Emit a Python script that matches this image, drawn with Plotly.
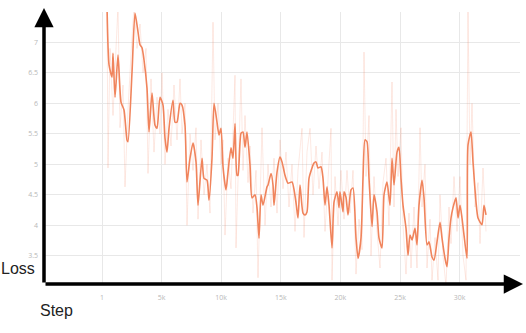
import plotly.graph_objects as go

# Smoothed loss curve (step, loss)
smooth_steps = [420, 590, 840, 923, 1091, 1342, 1594, 1846, 2097, 2181, 2517, 2768, 3020, 3188,
                3356, 3523, 3775, 3943, 4195, 4446, 4614, 4866, 5117, 5285, 5453, 5621, 5956,
                6124, 6292, 6544, 6711, 6963, 7131, 7383, 7634, 7886, 8054, 8389, 8557, 8809,
                8976, 9228, 9396, 9648, 9815, 9983, 10151, 10403, 10570, 10822, 10990, 11158,
                11326, 11409, 11661, 11829, 11997, 12164, 12416, 12584, 12836, 13003, 13171,
                13339, 13507, 13842, 13926, 14178, 14346, 14430, 14681, 14933, 15101, 15352,
                15604, 15940, 16275, 16443, 16611, 16862, 17030, 17198, 17366, 17617, 17785,
                17953, 18121, 18372, 18540, 18708, 18876, 19044, 19295, 19463, 19715, 19883,
                19966, 20218, 20302, 20470, 20638, 20889, 21057, 21309, 21477, 21728, 21896,
                22064, 22231, 22399, 22651, 22819, 23070, 23238, 23490, 23658, 23909, 24161,
                24329, 24497, 24748, 24916, 25084, 25252, 25503, 25671, 25839, 26007, 26258,
                26426, 26594, 26846, 27013, 27265, 27433, 27685, 27852, 28104, 28356, 28523,
                28775, 28943, 29111, 29279, 29446, 29698, 29866, 30034, 30201, 30369, 30621,
                30705, 30956, 31124, 31376, 31544, 31879, 32047, 32215]
smooth_loss = [7.6, 6.63, 6.43, 6.82, 6.10, 6.79, 6.02, 5.89, 5.40, 5.37, 6.51, 7.48, 7.17, 6.96,
               6.91, 6.71, 6.25, 5.53, 6.17, 5.64, 5.59, 6.10, 5.97, 5.43, 5.20, 5.59, 6.05,
               5.69, 5.69, 6.00, 5.97, 5.64, 4.71, 5.10, 5.35, 5.04, 4.33, 5.10, 4.77, 4.74,
               4.41, 5.10, 6.00, 5.69, 5.48, 5.59, 4.96, 4.58, 4.87, 5.27, 5.10, 5.67,
               4.82, 4.82, 5.51, 5.53, 5.28, 5.53, 4.99, 4.45, 4.50, 4.29, 3.79,
               4.50, 4.33, 4.63, 4.66, 4.85, 4.66, 4.33, 4.87, 5.12, 5.04, 4.82,
               4.69, 4.71, 4.37, 4.12, 4.66, 4.20, 4.17, 4.22, 4.77, 4.94, 5.02,
               5.04, 4.94, 4.96, 4.77, 4.33, 4.63, 4.33, 3.63, 4.38, 4.55, 4.29,
               4.55, 4.22, 4.55, 4.46, 4.17, 4.58, 4.61, 3.79, 3.46, 3.79, 4.77,
               5.40, 5.37, 4.77, 3.98, 4.50, 4.22, 3.79, 3.63, 4.50, 4.71, 4.33,
               5.10, 4.66, 5.20, 5.28, 4.77, 4.33, 3.95, 3.51, 3.84, 3.76, 3.95,
               3.68, 4.33, 4.74, 4.45, 3.68, 3.73, 3.48, 3.43, 3.73, 4.05, 3.79,
               3.46, 3.32, 3.79, 4.12, 4.29, 4.45, 4.12, 4.33, 4.12, 3.84, 3.46,
               5.32, 5.53, 5.04, 4.38, 4.12, 4.01, 4.33, 4.17]

# Raw (unsmoothed) loss, faint
raw_steps = [419, 503, 671, 923, 1174, 1342, 1510, 1762, 1929, 2181, 2433, 2684, 2936, 3188, 3439,
             3691, 3859, 4111, 4362, 4614, 4866, 5033, 5285, 5537, 5788, 6040, 6292, 6544, 6711,
             6963, 7131, 7383, 7634, 7886, 8054, 8305, 8557, 8809, 9060, 9312, 9480, 9731, 9983,
             10151, 10318, 10570, 10822, 10990, 11158, 11242, 11493, 11661, 11829, 11997, 12248,
             12416, 12667, 12919, 13087, 13255, 13422, 13674, 13926, 14177, 14429, 14681, 14932,
             15184, 15436, 15687, 15939, 16191, 16442, 16778, 16946, 17197, 17449, 17701, 17952,
             18204, 18456, 18707, 18959, 19211, 19295, 19546, 19798, 20050, 20301, 20553, 20805,
             21056, 21308, 21560, 21811, 21979, 22147, 22399, 22566, 22818, 23070, 23321, 23573,
             23825, 24076, 24328, 24496, 24664, 24831, 25083, 25251, 25503, 25754, 25922, 26174,
             26425, 26677, 26845, 27096, 27264, 27516, 27684, 27935, 28187, 28355, 28606, 28858,
             29110, 29278, 29529, 29781, 30033, 30284, 30536, 30704, 30872, 31039, 31291, 31543,
             31710, 31962, 32214]
raw_loss = [7.6, 4.94, 6.9, 5.8, 6.9, 7.6, 5.6, 6.3, 4.63, 5.9, 6.8, 7.6, 6.9, 7.3, 6.5,
            6.9, 4.85, 6.4, 5.2, 6.1, 5.5, 6.5, 5.0, 5.9, 5.3, 6.3, 5.4, 6.4, 5.5,
            6.0, 4.0, 5.5, 4.9, 5.6, 4.1, 5.4, 4.5, 5.0, 4.2, 7.33, 5.4, 6.0, 5.0,
            5.4, 3.84, 5.1, 4.6, 5.6, 6.46, 3.63, 5.2, 6.4, 4.9, 5.8, 4.7,
            5.3, 4.2, 4.9, 3.14, 4.6, 5.6, 4.0, 5.0, 4.3, 5.1, 4.2, 5.4,
            4.6, 5.2, 4.3, 5.0, 3.9, 4.9, 5.59, 3.8, 5.2, 5.59, 4.5, 5.3,
            4.6, 5.2, 3.9, 4.8, 5.59, 3.1, 4.8, 4.0, 4.9, 4.1, 4.9, 4.2,
            4.9, 3.2, 4.1, 3.6, 6.84, 4.8, 5.8, 3.5, 4.8, 3.9, 3.3, 4.7,
            5.1, 4.0, 6.35, 4.3, 5.9, 4.8, 5.6, 4.0, 3.2, 4.2, 3.3, 4.3,
            3.3, 5.6, 4.3, 5.0, 3.3, 4.1, 3.1, 3.8, 3.1, 4.5, 3.5, 3.0,
            4.3, 3.7, 4.8, 3.9, 4.8, 3.5, 3.1, 7.5, 5.0, 6.0, 4.3, 4.7,
            3.7, 4.94, 3.9]

x_tickvals = [1, 5000, 10000, 15000, 20000, 25000, 30000]
x_ticktext = ["1", "5k", "10k", "15k", "20k", "25k", "30k"]
y_tickvals = [3.5, 4, 4.5, 5, 5.5, 6, 6.5, 7, 7.5]
y_ticktext = ["3.5", "4", "4.5", "5", "5.5", "6", "6.5", "7", ""]

fig = go.Figure()
fig.add_trace(go.Scatter(x=raw_steps, y=raw_loss, mode="lines",
                         line=dict(color="rgba(240,120,80,0.16)", width=1),
                         hoverinfo="skip", showlegend=False))
fig.add_trace(go.Scatter(x=smooth_steps, y=smooth_loss, mode="lines",
                         line=dict(color="#f0845c", width=1.6, shape="spline", smoothing=0.6),
                         showlegend=False))

fig.update_layout(
    width=526, height=333,
    margin=dict(l=44, r=6, t=12, b=49),
    paper_bgcolor="white", plot_bgcolor="white",
    xaxis=dict(range=[-4866, 35066], tickvals=x_tickvals, ticktext=x_ticktext,
               showgrid=True, gridcolor="#e8e8e8", gridwidth=1, zeroline=False,
               showline=False, ticks="", ticklabelstandoff=8,
               tickfont=dict(size=7, color="#b8b8b8", family="Open Sans")),
    yaxis=dict(range=[3.038, 7.497], tickvals=y_tickvals, ticktext=y_ticktext,
               showgrid=True, gridcolor="#e8e8e8", gridwidth=1, zeroline=False,
               showline=False, ticks="", ticklabelstandoff=5,
               tickfont=dict(size=7, color="#b8b8b8", family="Open Sans")),
    annotations=[
        # x-axis arrow
        dict(x=1.0063, y=0, xref="paper", yref="paper", text="", showarrow=True,
             ax=-479, ay=0, axref="pixel", ayref="pixel",
             arrowhead=2, arrowsize=1.1, arrowwidth=3.5, arrowcolor="black"),
        # y-axis arrow
        dict(x=0, y=1.0147, xref="paper", yref="paper", text="", showarrow=True,
             ax=0, ay=276, axref="pixel", ayref="pixel",
             arrowhead=2, arrowsize=1.1, arrowwidth=3.5, arrowcolor="black"),
        dict(x=-0.0546, y=0.0588, xref="paper", yref="paper", text="Loss",
             showarrow=False, xanchor="center", yanchor="middle",
             font=dict(size=16, color="#222222", family="Liberation Sans")),
        dict(x=0.0273, y=-0.0956, xref="paper", yref="paper", text="Step",
             showarrow=False, xanchor="center", yanchor="middle",
             font=dict(size=16, color="#222222", family="Liberation Sans")),
    ],
)

fig.write_html("out.html")
